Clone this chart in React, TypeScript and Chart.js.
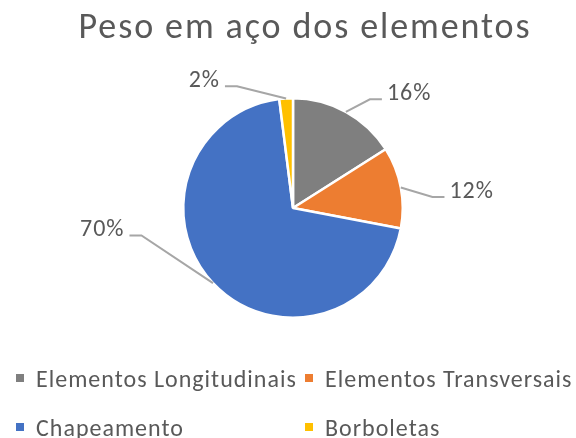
import React, { useEffect, useRef } from "react";
import { Chart, registerables } from "chart.js";

Chart.register(...registerables);

const TITLE = "Peso em aço dos elementos";
const categories = ["Elementos Longitudinais", "Elementos Transversais", "Chapeamento", "Borboletas"];
const values = [16, 12, 70, 2];
const colors = ["#7F7F7F", "#ED7D31", "#4472C4", "#FFC000"];

const FONT = "Carlito, Lato, 'Open Sans', sans-serif";
const TEXT_COLOR = "#595959";

// label end points relative to pie centre, in units of the radius
const labelPos = [
  { dx: 0.81, dy: -0.99 },
  { dx: 1.38, dy: -0.1 },
  { dx: -1.49, dy: 0.25 },
  { dx: -0.62, dy: -1.11 },
];

const titlePlugin = {
  id: "customTitle",
  afterDraw(chart: any) {
    const ctx = chart.ctx;
    ctx.save();
    ctx.font = `36px ${FONT}`;
    (ctx as any).letterSpacing = "1.9px";
    ctx.fillStyle = TEXT_COLOR;
    ctx.textAlign = "left";
    ctx.textBaseline = "alphabetic";
    const w = ctx.measureText(TITLE).width;
    ctx.fillText(TITLE, 305 - w / 2, 38);
    ctx.restore();
  },
};

const labelPlugin = {
  id: "outsideLabels",
  afterDatasetsDraw(chart: any) {
    const ctx = chart.ctx;
    const meta = chart.getDatasetMeta(0);
    const data = chart.data.datasets[0].data as number[];
    const total = data.reduce((a, b) => a + b, 0);
    ctx.save();
    meta.data.forEach((arc: any, i: number) => {
      const p = arc.getProps(["x", "y", "startAngle", "endAngle", "outerRadius"], true);
      const mid = (p.startAngle + p.endAngle) / 2;
      const r = p.outerRadius;
      const ax = p.x + Math.cos(mid) * r;
      const ay = p.y + Math.sin(mid) * r;
      const pos = labelPos[i];
      const ex = p.x + pos.dx * r;
      const ey = p.y + pos.dy * r;
      const right = pos.dx > 0;
      const elbowX = ex + (right ? -12 : 12);
      ctx.strokeStyle = "#A6A6A6";
      ctx.lineWidth = 2;
      ctx.beginPath();
      ctx.moveTo(ax, ay);
      ctx.lineTo(elbowX, ey);
      ctx.lineTo(ex, ey);
      ctx.stroke();
      const pct = Math.round((data[i] / total) * 100) + "%";
      ctx.font = `24px ${FONT}`;
      (ctx as any).letterSpacing = "1px";
      ctx.fillStyle = TEXT_COLOR;
      ctx.textBaseline = "alphabetic";
      ctx.textAlign = "left";
      const w = ctx.measureText(pct).width;
      ctx.fillText(pct, right ? ex + 5 : ex - 5 - w, ey + 1);
    });
    ctx.restore();
  },
};

const legendPlugin = {
  id: "gridLegend",
  afterDraw(chart: any) {
    const ctx = chart.ctx;
    const labels = chart.data.labels as string[];
    const bg = chart.data.datasets[0].backgroundColor as string[];
    const colX = [16, 305];
    const rowY = [387, 436];
    ctx.save();
    ctx.font = `24px ${FONT}`;
    (ctx as any).letterSpacing = "1px";
    ctx.textBaseline = "alphabetic";
    ctx.textAlign = "left";
    labels.forEach((lab, i) => {
      const x = colX[i % 2];
      const y = rowY[Math.floor(i / 2)];
      ctx.fillStyle = bg[i];
      ctx.fillRect(x, y - 13, 8, 8);
      ctx.fillStyle = TEXT_COLOR;
      ctx.fillText(lab, x + 20, y);
    });
    ctx.restore();
  },
};

export default function App() {
  const ref = useRef<HTMLCanvasElement>(null);
  useEffect(() => {
    document.body.style.margin = "0";
    const chart = new Chart(ref.current!, {
      type: "pie",
      data: {
        labels: categories,
        datasets: [
          {
            data: values,
            backgroundColor: colors,
            borderColor: "#FFFFFF",
            borderWidth: 2.5,
          },
        ],
      },
      options: {
        animation: false,
        responsive: false,
        maintainAspectRatio: false,
        layout: { padding: { left: 10, right: 0, top: 97, bottom: 119 } },
        plugins: {
          legend: { display: false },
          title: { display: false },
          tooltip: { enabled: false },
        },
      },
      plugins: [titlePlugin, labelPlugin, legendPlugin],
    });
    return () => chart.destroy();
  }, []);
  return (
    <div style={{ width: 576, height: 438 }}>
      <canvas ref={ref} width={576} height={438} style={{ display: "block" }} />
    </div>
  );
}
